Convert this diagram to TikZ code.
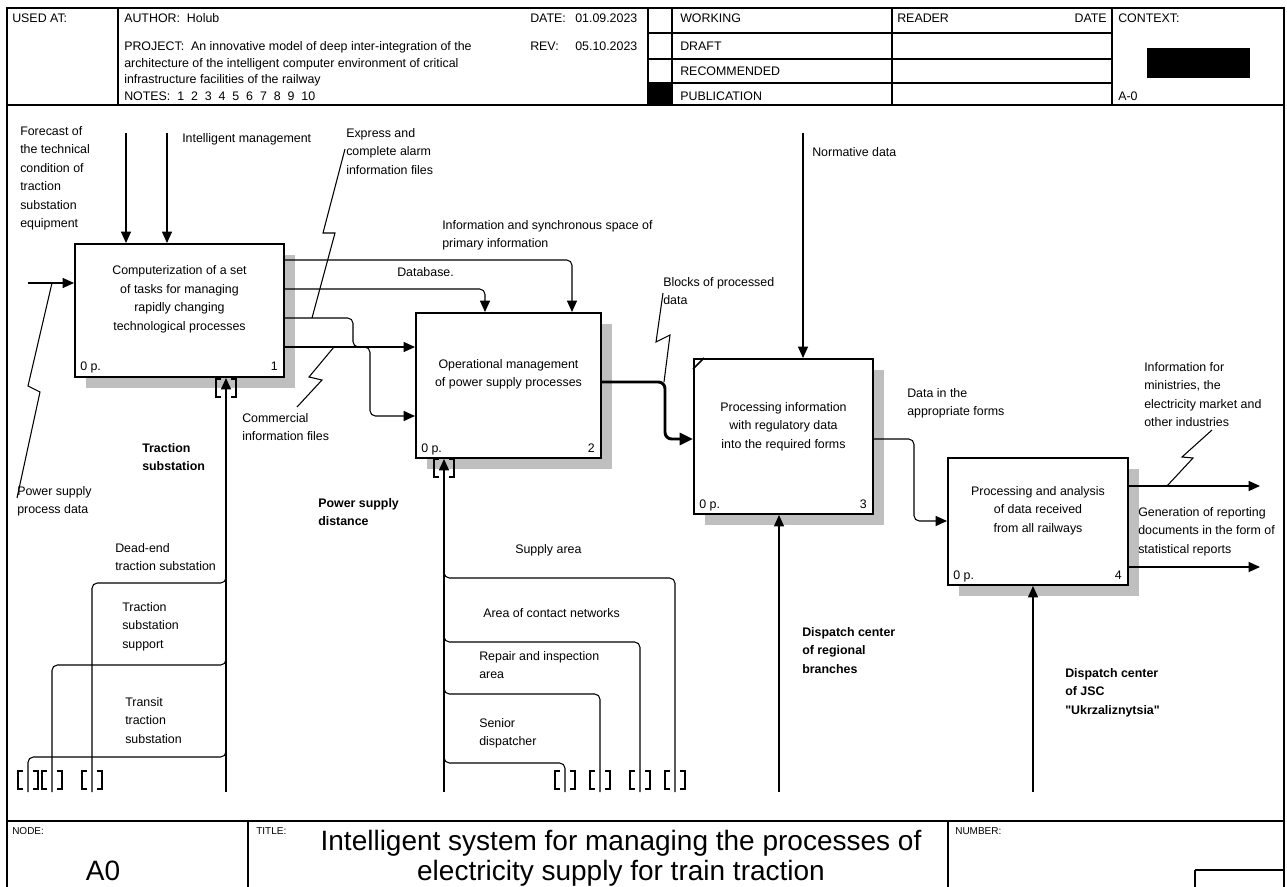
\documentclass[tikz,border=0pt]{standalone}
\usepackage{fontspec}
\setmainfont[Ligatures=TeXOff]{Liberation Sans}
\usetikzlibrary{arrows.meta,calc,shadows}
\newcommand\labfont{\fontsize{9.3}{13.9}\selectfont}
\newcommand\smallfont{\fontsize{7.5}{9}\selectfont}
\newcommand\bigfont{\fontsize{21}{22.5}\selectfont}
\begin{document}
\begin{tikzpicture}[x=0.75pt,y=-0.75pt,
  conn/.style={line width=0.8pt},
  arr/.style={conn,-{Triangle[length=8.5pt,width=7.5pt]}},
  thickarr/.style={line width=2.2pt,-{Triangle[length=10pt,width=9pt]}},
  frm/.style={line width=0.8pt},
  procbox/.style={draw,line width=1.5pt,fill=white,anchor=north west,inner sep=0,
    drop shadow={shadow xshift=8.5pt,shadow yshift=-8.5pt,fill=black!25,opacity=1}},
  btxt/.style={align=center,font=\labfont,inner sep=0},
  lab/.style={anchor=north west,inner sep=0,align=left,font=\labfont},
  blab/.style={lab,font=\labfont\bfseries},
  hdr/.style={anchor=base west,inner sep=0,font=\labfont},
  tun/.pic={\draw[conn] (-5,-9) -- (-10,-9) -- (-10,9) -- (-5,9);
            \draw[conn] (5,-9) -- (10,-9) -- (10,9) -- (5,9);}
]
\useasboundingbox (0,0) rectangle (1287,887);
% ---------- frame and header ----------
\draw[frm] (7,887) -- (7,8) -- (1284,8) -- (1284,887);
\draw[frm] (7,105) -- (1284,105);
\foreach \xx in {118,648,672,892,1112} \draw[frm] (\xx,8) -- (\xx,105);
\foreach \yy in {33,59,83} \draw[frm] (648,\yy) -- (1112,\yy);
\fill (648,83) rectangle (672,105);
\fill (1147,48) rectangle (1250,78);
\node[hdr] (hUsed) at (12,23) {USED AT:};
\node[hdr] (hAuth) at (124,23) {AUTHOR:~~Holub};
\node[hdr] (hProj) at (124,51) {PROJECT:~~An innovative model of deep inter-integration of the};
\node[hdr] (hProj2) at (124,67.5) {architecture of the intelligent computer environment of critical};
\node[hdr] (hProj3) at (124,84) {infrastructure facilities of the railway};
\node[hdr] (hNotes) at (124,101) {NOTES:~~1~~2~~3~~4~~5~~6~~7~~8~~9~~10};
\node[hdr] (hDate) at (530,23) {DATE:};
\node[hdr] (hDateV) at (575,23) {01.09.2023};
\node[hdr] (hRev) at (530,51) {REV:};
\node[hdr] (hRevV) at (575,51) {05.10.2023};
\node[hdr] (hWork) at (680,23) {WORKING};
\node[hdr] (hDraft) at (680,51) {DRAFT};
\node[hdr] (hRec) at (680,75.5) {RECOMMENDED};
\node[hdr] (hPub) at (680,101) {PUBLICATION};
\node[hdr] (hReader) at (897,23) {READER};
\node[hdr,anchor=base east] (hRDate) at (1107,23) {DATE};
\node[hdr] (hCtx) at (1118,23) {CONTEXT:};
\node[hdr] (hA0) at (1118,101) {A-0};
% ---------- footer ----------
\draw[frm] (7,821) -- (1284,821);
\draw[frm] (248,821) -- (248,887);
\draw[frm] (948,821) -- (948,887);
\draw[frm] (1195,870) -- (1195,890);
\draw[frm] (1195,870) -- (1284,870);
\node[anchor=base west,inner sep=0,font=\smallfont] (fNode) at (12,834) {NODE:};
\node[anchor=base west,inner sep=0,font=\smallfont] (fTitle) at (256,834) {TITLE:};
\node[anchor=base west,inner sep=0,font=\smallfont] (fNum) at (955,834) {NUMBER:};
\node[font=\bigfont,inner sep=0] (fA0) at (103,871) {A0};
\node[font=\bigfont,align=center,inner sep=0] (fTitleTxt) at (621,858)
  {Intelligent system for managing the processes of\\electricity supply for train traction};
% ---------- boxes ----------
\node[procbox,minimum width=209*0.75pt,minimum height=133*0.75pt] (b1) at (74,243) {};
\node[procbox,minimum width=185*0.75pt,minimum height=145*0.75pt] (b2) at (415,312) {};
\node[procbox,minimum width=179*0.75pt,minimum height=155*0.75pt] (b3) at (693,358) {};
\node[procbox,minimum width=180*0.75pt,minimum height=127*0.75pt] (b4) at (947,457) {};
\draw[line width=1.2pt] ($(b3.north west)+(0,11)$) -- ($(b3.north west)+(11,0)$);
\node[btxt] (t1) at ($(b1.center)+(0,-11)$) {Computerization of a set\\of tasks for managing\\rapidly changing\\technological processes};
\node[btxt] (t2) at ($(b2.center)+(0,-11)$) {Operational management\\of power supply processes};
\node[btxt] (t3) at ($(b3.center)+(0,-10)$) {Processing information\\with regulatory data\\into the required forms};
\node[btxt] (t4) at ($(b4.center)+(0,-11)$) {Processing and analysis\\of data received\\from all railways};
\foreach \b/\n in {b1/1,b2/2,b3/3,b4/4}{
  \node[lab,anchor=base west] (p\n) at ($(\b.south west)+(6,-7)$) {0 p.};
  \node[lab,anchor=base east] (n\n) at ($(\b.south east)+(-7,-7)$) {\n};
}
% ---------- controls and input ----------
\coordinate (cF) at (126,133);
\coordinate (cI) at (167,133);
\coordinate (cN) at (803,133);
\draw[arr] (cF) -- (cF |- b1.north);
\draw[arr] (cI) -- (cI |- b1.north);
\draw[arr] (cN) -- (cN |- b3.north);
\coordinate (cP) at (28,283);
\draw[arr] (cP) -- (cP -| b1.west);
% ---------- box 1 outputs ----------
\draw[arr,rounded corners=4pt] ($(b1.north east)+(0,17)$) -| ($(b2.north west)+(157,0)$);
\draw[arr,rounded corners=4pt] ($(b1.north east)+(0,46)$) -| ($(b2.north west)+(70,0)$);
\draw[arr,rounded corners=4pt] ($(b1.north east)+(0,75)$) -- ++(68,0) -- ++(0,29) -- ++(17,0) |- ($(b2.north west)+(0,104)$);
\draw[arr] ($(b1.north east)+(0,104)$) -- ($(b2.north west)+(0,35)$);
% ---------- box 2, 3, 4 outputs ----------
\draw[thickarr,rounded corners=5pt] ($(b2.north east)+(0,70)$) -- ++(63,0) |- ($(b3.north west)+(0,81)$);
\draw[arr,rounded corners=4pt] ($(b3.north east)+(0,81)$) -- ++(40,0) |- ($(b4.north west)+(0,64)$);
\coordinate (o1) at (1260,486);
\coordinate (o2) at (1260,567);
\draw[arr] (o1 -| b4.east) -- (o1);
\draw[arr] (o2 -| b4.east) -- (o2);
% ---------- mechanisms ----------
\coordinate (m1) at (226,792);
\draw[arr] (m1) -- (m1 |- b1.south);
\coordinate (m1a) at (92,792);
\coordinate (m1b) at (52,792);
\coordinate (m1c) at (28,792);
\draw[conn,rounded corners=4pt] (m1a) |- ($(m1)+(0,-209)$) -- ++(0,-12);
\draw[conn,rounded corners=4pt] (m1b) |- ($(m1)+(0,-127)$) -- ++(0,-12);
\draw[conn,rounded corners=4pt] (m1c) |- ($(m1)+(0,-35)$) -- ++(0,-12);
\coordinate (m2) at (444,792);
\draw[arr] (m2) -- (m2 |- b2.south);
\coordinate (m2a) at (675,792);
\coordinate (m2b) at (640,792);
\coordinate (m2c) at (600,792);
\coordinate (m2d) at (565,792);
\draw[conn,rounded corners=4pt] (m2a) |- ($(m2)+(0,-214)$) -- ++(0,-12);
\draw[conn,rounded corners=4pt] (m2b) |- ($(m2)+(0,-150)$) -- ++(0,-12);
\draw[conn,rounded corners=4pt] (m2c) |- ($(m2)+(0,-98)$) -- ++(0,-12);
\draw[conn,rounded corners=4pt] (m2d) |- ($(m2)+(0,-29)$) -- ++(0,-12);
\coordinate (m3) at (779,792);
\draw[arr] (m3) -- (m3 |- b3.south);
\coordinate (m4) at (1033,792);
\draw[arr] (m4) -- (m4 |- b4.south);
% tunnels
\pic at (226,388) {tun};
\pic at (444,468) {tun};
\foreach \xx in {28,52,92,565,600,640,675} \pic at (\xx,780) {tun};
% ---------- squiggles ----------
\draw[conn] (52,283) -- (28,386) -- (40,392) -- (17,498);
\draw[conn] (345,149) -- (323,233) -- (335,233) -- (312,318);
\draw[conn] (334,347) -- (309,377) -- (322,380) -- (297,407);
\draw[conn] (663,293) -- (656,342) -- (670,335) -- (664,382);
\draw[conn] (1212,430) -- (1182,457) -- (1193,458) -- (1167,486);
% ---------- labels ----------
\node[lab] (lF) at (20,122) {\strut Forecast of\\the technical\\condition of\\traction\\substation\\equipment};
\node[lab] (lI) at (182,129) {\strut Intelligent management};
\node[lab] (lE) at (346,124) {\strut Express and\\complete alarm\\information files};
\node[lab] (lS) at (442,216) {\strut Information and synchronous space of\\primary information};
\node[lab] (lD) at (397,263) {\strut Database.};
\node[lab] (lB) at (663,273) {\strut Blocks of processed\\data};
\node[lab] (lN) at (812,143) {\strut Normative data};
\node[lab] (lA) at (907,384) {\strut Data in the\\appropriate forms};
\node[lab] (lM) at (1144,358) {\strut Information for\\ministries, the\\electricity market and\\other industries};
\node[lab] (lG) at (1138,503) {\strut Generation of reporting\\documents in the form of\\statistical reports};
\node[lab] (lP) at (17,482) {\strut Power supply\\process data};
\node[lab] (lC) at (242,409) {\strut Commercial\\information files};
\node[blab] (lT) at (142,439) {\strut Traction\\substation};
\node[blab] (lPD) at (318,494) {\strut Power supply\\distance};
\node[lab] (lDE) at (115,539) {\strut Dead-end\\traction substation};
\node[lab] (lTS) at (122,598) {\strut Traction\\substation\\support};
\node[lab] (lTT) at (125,693) {\strut Transit\\traction\\substation};
\node[lab] (lSA) at (515,540) {\strut Supply area};
\node[lab] (lAC) at (483,604) {\strut Area of contact networks};
\node[lab] (lR) at (479,647) {\strut Repair and inspection\\area};
\node[lab] (lSD) at (479,714) {\strut Senior\\dispatcher};
\node[blab] (lDR) at (802,623) {\strut Dispatch center\\of regional\\branches};
\node[blab] (lDJ) at (1065,664) {\strut Dispatch center\\of JSC\\"Ukrzaliznytsia"};
\end{tikzpicture}
\end{document}
